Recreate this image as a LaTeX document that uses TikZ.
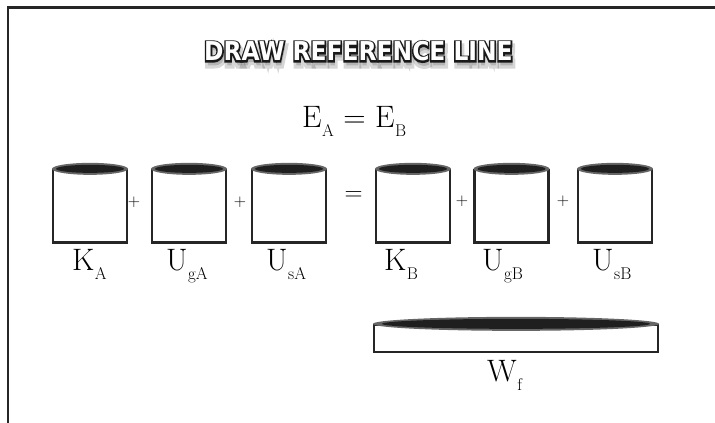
\documentclass[tikz,border=0pt]{standalone}
\usepackage{fontspec}
\usepackage{graphicx}
\newfontfamily\ttlfont{DejaVu Sans}
\newfontfamily\ttlout{DejaVu Sans}[BoldFeatures={FakeBold=13}]
\newfontfamily\ttlshadow{DejaVu Sans}[BoldFeatures={FakeBold=24}]
\newcommand\lab[2]{{\fontsize{31}{31}\selectfont #1}\kern0.5pt\raisebox{-9pt}{\fontsize{17}{17}\selectfont #2}}
\newcommand\ttltext{\scalebox{0.9}[1]{DRAW REFERENCE LINE}}
\tikzset{
  frame/.style={draw=black!85, line width=2.5pt},
  box/.style={draw=black!85, line width=2.3pt, fill=white, minimum width=74pt, minimum height=72.5pt, inner sep=0pt},
  wbox/.style={draw=black!85, line width=2.3pt, fill=white, minimum width=284pt, minimum height=27pt, inner sep=0pt},
  lid/.style={fill=black!60},
  lidcore/.style={fill=black!88},
  lbl/.style={inner sep=0pt, anchor=base west},
  op/.style={inner sep=0pt, font=\fontsize{17}{17}\selectfont},
  ttl/.style={inner sep=0pt, font=\ttlfont\bfseries\fontsize{26}{26}\selectfont}
}
\begin{document}
\begin{tikzpicture}[x=1pt,y=1pt]
\useasboundingbox (0,0) rectangle (715,423);
% frame
\coordinate (fb) at (8,0);
\coordinate (fc) at (8,415.5);
\coordinate (fr) at (715,415.5);
\draw[frame] (fb) -- (fc) -- (fr);
% title: shadow, outline, fill
\coordinate (tc) at (358.5,371.5);
\coordinate (tsc) at (360,367);
\node[ttl, font=\ttlshadow\bfseries\fontsize{26}{26}\selectfont, text=black, text opacity=0.16] (tshadow) at (tsc) {\ttltext};
\node[ttl, font=\ttlout\bfseries\fontsize{26}{26}\selectfont, text=black!90] (toutline) at (tc) {\ttltext};
\node[ttl, text=white] (title) at (tc) {\ttltext};
% E_A = E_B
\node[lbl] (EA) at (302,295) {\lab{E}{A}};
\node[inner sep=0pt, anchor=base, font=\fontsize{31}{31}\selectfont] (eqtop) at (354.5,295) {=};
\node[lbl] (EB) at (375,295) {\lab{E}{B}};
% boxes
\foreach \n/\x in {b1/90,b2/189,b3/289,b4/413,b5/511.5,b6/615}{
  \node[box] (\n) at (\x,216.75) {};
  \fill[lid] (\n.north) ellipse [x radius=38pt, y radius=6pt];
  \fill[lidcore] (\n.north) ellipse [x radius=34pt, y radius=4pt];
}
% operators
\node[op] (p1) at (134,221) {+};
\node[op] (p2) at (240,221) {+};
\node[inner sep=0pt, font=\fontsize{25}{25}\selectfont] (eq) at (353.5,227) {=};
\node[op] (p3) at (462,222) {+};
\node[op] (p4) at (563,222) {+};
% labels
\node[lbl] (KA) at (72,152) {\lab{K}{A}};
\node[lbl] (UgA) at (166,152) {\lab{U}{gA}};
\node[lbl] (UsA) at (266,152) {\lab{U}{sA}};
\node[lbl] (KB) at (384,152) {\lab{K}{B}};
\node[lbl] (UgB) at (482,152) {\lab{U}{gB}};
\node[lbl] (UsB) at (592,152) {\lab{U}{sB}};
% W_f
\node[wbox] (wf) at (516,84.5) {};
\fill[lid] (wf.north) ellipse [x radius=143pt, y radius=7pt];
\fill[lidcore] (wf.north) ellipse [x radius=134pt, y radius=5pt];
\node[lbl] (Wf) at (487,41) {\lab{W}{f}};
\end{tikzpicture}
\end{document}
